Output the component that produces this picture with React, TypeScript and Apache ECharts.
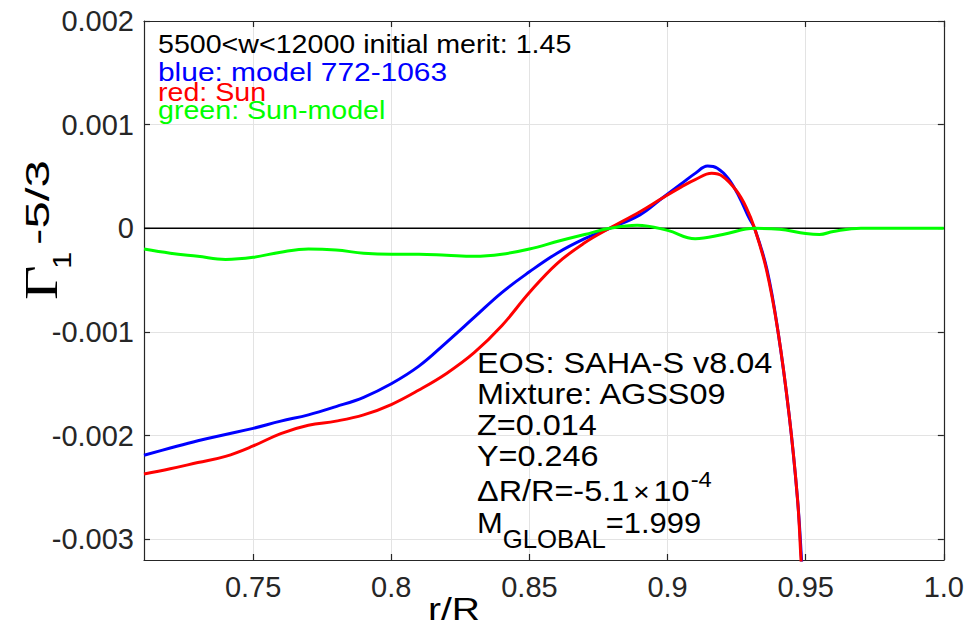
import React, { useEffect, useRef } from 'react';
import * as echarts from 'echarts';

// ---- axis ----
const X_MIN = 0.7105;
const X_MAX = 1.0;
const Y_MIN = -0.0032;
const Y_MAX = 0.002;
const xTicks = [0.75, 0.8, 0.85, 0.9, 0.95, 1.0];
const yTicks = [-0.003, -0.002, -0.001, 0, 0.001, 0.002];

// ---- blue: model ----
const blueX = [0.7105, 0.72, 0.73, 0.74, 0.75, 0.76, 0.77, 0.78, 0.79, 0.8, 0.81, 0.82, 0.83, 0.84, 0.85, 0.86, 0.87, 0.879, 0.89, 0.898, 0.905, 0.91, 0.9145, 0.918, 0.922, 0.926, 0.9295, 0.9315, 0.936, 0.94, 0.944, 0.947, 0.9485, 0.9495];
const blueY = [-0.00219, -0.00212, -0.00205, -0.00199, -0.00193, -0.00186, -0.0018, -0.00172, -0.00163, -0.0015, -0.00133, -0.0011, -0.00086, -0.00062, -0.00042, -0.00024, -0.0001, 0.0, 0.00013, 0.00029, 0.00043, 0.00053, 0.0006, 0.00058, 0.00048, 0.0003, 0.0001, 0.0, -0.0004, -0.001, -0.0018, -0.0026, -0.0032, -0.0037];

// ---- red: Sun ----
const redX = [0.7105, 0.72, 0.73, 0.74, 0.75, 0.76, 0.77, 0.78, 0.79, 0.8, 0.81, 0.82, 0.83, 0.84, 0.85, 0.86, 0.87, 0.879, 0.89, 0.898, 0.905, 0.91, 0.916, 0.92, 0.925, 0.9285, 0.9315, 0.9358, 0.94, 0.944, 0.947, 0.9483, 0.9493];
const redY = [-0.00237, -0.00232, -0.00226, -0.0022, -0.0021, -0.00198, -0.0019, -0.00186, -0.0018, -0.0017, -0.00156, -0.0014, -0.0012, -0.00094, -0.00062, -0.00034, -0.00014, 0.0, 0.00016, 0.00029, 0.0004, 0.00047, 0.00053, 0.0005, 0.00036, 0.0002, 0.0, -0.0004, -0.001, -0.0018, -0.0026, -0.0032, -0.0037];

// ---- green: Sun-model ----
const greenX = [0.7105, 0.72, 0.73, 0.74, 0.75, 0.76, 0.77, 0.78, 0.79, 0.8, 0.81, 0.82, 0.83, 0.84, 0.85, 0.861, 0.87, 0.879, 0.889, 0.9, 0.91, 0.92, 0.9315, 0.9405, 0.95, 0.955, 0.96, 0.97, 0.98, 0.99, 1.0];
const greenY = [-0.0002, -0.00024, -0.00027, -0.0003, -0.00028, -0.00023, -0.0002, -0.00021, -0.00024, -0.00025, -0.00025, -0.00026, -0.00027, -0.00025, -0.0002, -0.00012, -0.00006, 0.0, 0.00003, -0.00002, -0.0001, -0.00006, 0.0, -0.00001, -0.00005, -0.00006, -0.00003, 0.0, 0.0, 0.0, 0.0];

const zeroX = [X_MIN, X_MAX];
const zeroY = [0, 0];

// ---- annotation texts ----
const headerLines = [
  { text: '5500<w<12000 initial merit: 1.45', color: '#000000' },
  { text: 'blue: model 772-1063', color: '#0000ff' },
  { text: 'red: Sun', color: '#ff0000' },
  { text: 'green: Sun-model', color: '#00ff00' },
];
const eosLines = ['EOS: SAHA-S v8.04', 'Mixture: AGSS09', 'Z=0.014', 'Y=0.246'];

const SANS = 'Liberation Sans';
const SERIF = 'Liberation Serif';
const AX = '#262626';

const zip = (xs: number[], ys: number[]) => xs.map((x, i) => [x, ys[i]]);

let ctx: CanvasRenderingContext2D | null = null;
function tw(text: string, size: number, family = SANS) {
  if (!ctx) ctx = document.createElement('canvas').getContext('2d');
  ctx!.font = `${size}px "${family}"`;
  return ctx!.measureText(text).width;
}

function txt(text: string, x: number, y: number, size: number, color: string, sx = 1, family = SANS): any {
  return {
    type: 'text',
    x,
    y,
    scaleX: sx,
    z: 100,
    style: {
      text,
      fill: color,
      fontSize: size,
      fontFamily: family,
      textAlign: 'left',
      textVerticalAlign: 'middle',
      align: 'left',
      verticalAlign: 'middle',
    },
  };
}

type Piece = { t: string; size: number; dx?: number; dy?: number; family?: string; sx?: number };
function seq(x0: number, yc: number, pieces: Piece[], color: string, sxDefault: number) {
  let x = x0;
  const out: any[] = [];
  for (const p of pieces) {
    const sx = p.sx ?? sxDefault;
    x += p.dx || 0;
    out.push(txt(p.t, x, yc + (p.dy || 0), p.size, color, sx, p.family || SANS));
    x += tw(p.t, p.size, p.family || SANS) * sx;
  }
  return out;
}

export default function App() {
  const ref = useRef<HTMLDivElement>(null);
  useEffect(() => {
    if (!ref.current) return;
    const chart = echarts.init(ref.current, undefined, { renderer: 'svg' });

    const HF = 26;
    const headerY = [44, 72, 92, 110];
    const headerS = [1.1, 1.15, 1.1, 1.1];
    const header = headerLines.map((l, i) => txt(l.text, 158, headerY[i], HF, l.color, headerS[i]));

    const ES = 1.08;
    const EF = 30;
    const eosY = [363, 394, 425, 456];
    const eos = eosLines.map((t, i) => txt(t, 477, eosY[i], EF, '#000000', ES));
    const dr = seq(477, 491, [
      { t: 'ΔR/R=-5.1', size: EF },
      { t: '×', size: 26, dx: 4, dy: 1 },
      { t: '10', size: EF, dx: 4 },
      { t: '-4', size: 22, dx: 1, dy: -12 },
    ], '#000000', ES);
    const mg = seq(477, 522, [
      { t: 'M', size: EF },
      { t: 'GLOBAL', size: 25, dy: 17 },
      { t: '=1.999', size: EF },
    ], '#000000', 1.03);

    const yName = {
      type: 'group',
      x: 56,
      y: 300,
      rotation: Math.PI / 2,
      z: 100,
      children: [
        txt('Γ', 0, -15, 46, '#000000', 1.3, SERIF),
        txt('1', 31, 6, 26, '#000000', 1.2),
        txt('-5/3', 55, -19, 34, '#000000', 1.45),
      ],
    };

    const xName = txt('r/R', 428, 609, 32, '#000000', 1.22);

    const option: any = {
      animation: false,
      backgroundColor: '#ffffff',
      grid: { left: 144, right: 23, top: 21, bottom: 66, containLabel: false },
      xAxis: [
        {
          type: 'value',
          min: X_MIN,
          max: X_MAX,
          position: 'bottom',
          axisLine: { show: true, onZero: false, lineStyle: { color: AX, width: 1.2 } },
          axisTick: { show: true, inside: true, length: 6, customValues: xTicks, lineStyle: { color: AX, width: 1.2 } },
          axisLabel: {
            customValues: xTicks,
            formatter: (v: number) => (v === 1 ? '1.0' : String(v)),
            fontSize: 29,
            fontFamily: SANS,
            color: AX,
            margin: 12,
          },
          splitLine: { show: true, lineStyle: { color: '#e3e3e3', width: 1 } },
        },
        {
          type: 'value',
          min: X_MIN,
          max: X_MAX,
          position: 'top',
          axisLine: { show: true, onZero: false, lineStyle: { color: AX, width: 1.2 } },
          axisTick: { show: true, inside: true, length: 6, customValues: xTicks, lineStyle: { color: AX, width: 1.2 } },
          axisLabel: { show: false },
          splitLine: { show: false },
        },
      ],
      yAxis: [
        {
          type: 'value',
          min: Y_MIN,
          max: Y_MAX,
          position: 'left',
          axisLine: { show: true, onZero: false, lineStyle: { color: AX, width: 1.2 } },
          axisTick: { show: true, inside: true, length: 6, customValues: yTicks, lineStyle: { color: AX, width: 1.2 } },
          axisLabel: {
            customValues: yTicks,
            formatter: (v: number) => String(v),
            fontSize: 29,
            fontFamily: SANS,
            color: AX,
            margin: 10,
          },
          splitLine: { show: true, lineStyle: { color: '#e3e3e3', width: 1 } },
        },
        {
          type: 'value',
          min: Y_MIN,
          max: Y_MAX,
          position: 'right',
          axisLine: { show: true, onZero: false, lineStyle: { color: AX, width: 1.2 } },
          axisTick: { show: true, inside: true, length: 6, customValues: yTicks, lineStyle: { color: AX, width: 1.2 } },
          axisLabel: { show: false },
          splitLine: { show: false },
        },
      ],
      series: [
        {
          type: 'line', name: 'zero', data: zip(zeroX, zeroY), symbol: 'none',
          lineStyle: { color: '#000000', width: 1.4 }, z: 2,
        },
        {
          type: 'line', name: 'model', data: zip(blueX, blueY), symbol: 'none', smooth: 0.4,
          lineStyle: { color: '#0000ff', width: 3 }, z: 3,
        },
        {
          type: 'line', name: 'Sun', data: zip(redX, redY), symbol: 'none', smooth: 0.4,
          lineStyle: { color: '#ff0000', width: 3 }, z: 4,
        },
        {
          type: 'line', name: 'Sun-model', data: zip(greenX, greenY), symbol: 'none', smooth: 0.4,
          lineStyle: { color: '#00ff00', width: 3 }, z: 5,
        },
      ],
      graphic: [...header, ...eos, ...dr, ...mg, yName, xName],
    };
    chart.setOption(option);
    return () => chart.dispose();
  }, []);
  return (
    <div
      ref={ref}
      style={{ position: 'fixed', left: 0, top: 0, width: 967, height: 626, background: '#fff' }}
    />
  );
}
